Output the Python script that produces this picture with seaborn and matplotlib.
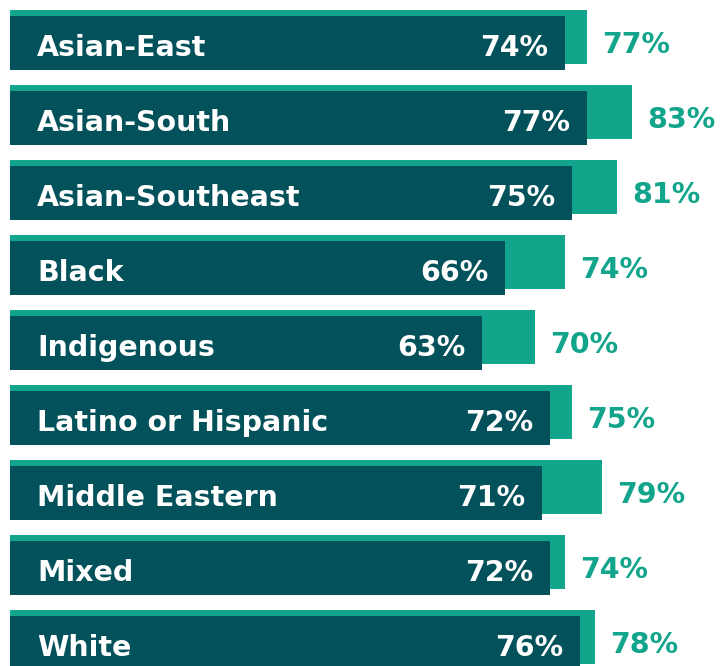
import matplotlib
matplotlib.use("Agg")
import matplotlib.pyplot as plt
import numpy as np
import pandas as pd
import seaborn as sns

# Data
groups = ["Asian-East", "Asian-South", "Asian-Southeast", "Black", "Indigenous",
          "Latino or Hispanic", "Middle Eastern", "Mixed", "White"]
front_vals = [74, 77, 75, 66, 63, 72, 71, 72, 76]   # dark bars
back_vals = [77, 83, 81, 74, 70, 75, 79, 74, 78]    # light bars behind

dark = "#03515a"
light = "#13a58c"

sns.set_theme(style="white")
plt.rcParams["font.family"] = ["DejaVu Sans"]

pos = np.arange(len(groups))
df_back = pd.DataFrame({"y": pos - 0.04, "val": back_vals})
df_front = pd.DataFrame({"y": pos + 0.04, "val": front_vals})

fig = plt.figure(figsize=(7.24, 6.66), dpi=100)
ax = fig.add_axes([10 / 724, 0, 714 / 724, 1])

sns.barplot(data=df_back, x="val", y="y", orient="h", native_scale=True,
            width=0.72, color=light, saturation=1, linewidth=0, ax=ax)
sns.barplot(data=df_front, x="val", y="y", orient="h", native_scale=True,
            width=0.72, color=dark, saturation=1, linewidth=0, ax=ax)

fs = 20.5
for i, (g, f, b) in enumerate(zip(groups, front_vals, back_vals)):
    ax.text(3.6, i + 0.213, g, color="white", fontsize=fs, fontweight="bold",
            ha="left", va="baseline")
    ax.text(f - 2.25, i + 0.213, f"{f}%", color="white", fontsize=fs,
            fontweight="bold", ha="right", va="baseline")
    ax.text(b + 2.0, i + 0.17, f"{b}%", color=light, fontsize=fs,
            fontweight="bold", ha="left", va="baseline")

ax.set_xlim(0, 95.2)
ax.set_ylim(626 / 75, -40 / 75)
ax.set_axis_off()

fig.savefig("out.png", dpi=100)
